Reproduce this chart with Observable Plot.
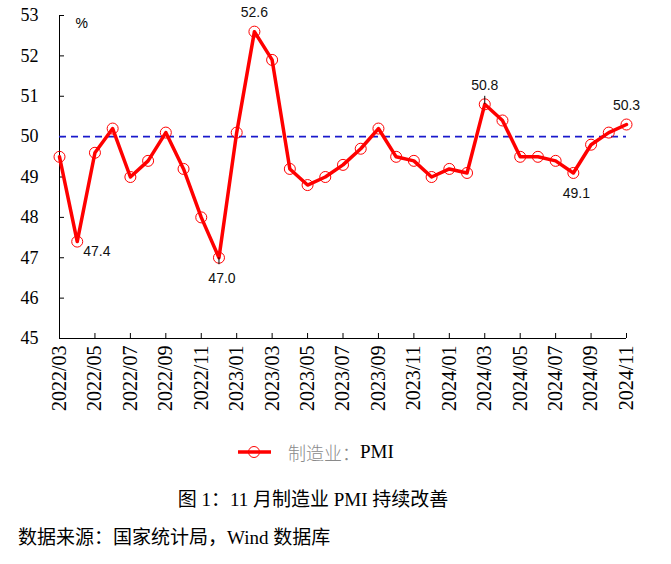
<!DOCTYPE html>
<html>
<head>
<meta charset="utf-8">
<script src="https://cdn.jsdelivr.net/npm/d3@7"></script>
<script src="https://cdn.jsdelivr.net/npm/@observablehq/plot@0.6"></script>
<style>
  html, body { margin: 0; padding: 0; background: #fff; }
  #wrap { position: relative; width: 671px; height: 564px; background: #fff; overflow: hidden; }
  #chart { position: absolute; left: 0; top: 0; }
  .legend { position: absolute; left: 236px; top: 440px; height: 24px; display: flex; align-items: center; font-size: 18px; }
  .legend .cn { color: #8a8a8a; font-family: "Noto Sans CJK SC", sans-serif; font-weight: 300; margin-left: 16px; }
  .legend .en { color: #000; font-family: "Liberation Serif", serif; font-size: 19px; }
  .title { position: absolute; left: 0; width: 626px; top: 484px; text-align: center; font-family: "Liberation Serif", "Noto Sans CJK SC", serif; font-size: 19px; color: #000; }
  .source { position: absolute; left: 18px; top: 522px; font-family: "Liberation Serif", "Noto Sans CJK SC", serif; font-size: 19px; color: #000; }
</style>
</head>
<body>
<div id="wrap">
  <div id="chart"></div>
  <div class="legend">
    <svg width="36" height="14"><line x1="2" y1="7" x2="35" y2="7" stroke="#ff0000" stroke-width="3.5"/><circle cx="18" cy="7" r="5.5" fill="none" stroke="#ff0000" stroke-width="1"/></svg>
    <span class="cn">制造业：</span><span class="en">PMI</span>
  </div>
  <div class="title">图 1：11 月制造业 PMI 持续改善</div>
  <div class="source">数据来源：国家统计局，Wind 数据库</div>
</div>
<script>
const months = [
  "2022/03","2022/04","2022/05","2022/06","2022/07","2022/08","2022/09","2022/10","2022/11","2022/12",
  "2023/01","2023/02","2023/03","2023/04","2023/05","2023/06","2023/07","2023/08","2023/09","2023/10","2023/11","2023/12",
  "2024/01","2024/02","2024/03","2024/04","2024/05","2024/06","2024/07","2024/08","2024/09","2024/10","2024/11"
];
const pmi = [
  49.5, 47.4, 49.6, 50.2, 49.0, 49.4, 50.1, 49.2, 48.0, 47.0,
  50.1, 52.6, 51.9, 49.2, 48.8, 49.0, 49.3, 49.7, 50.2, 49.5, 49.4, 49.0,
  49.2, 49.1, 50.8, 50.4, 49.5, 49.5, 49.4, 49.1, 49.8, 50.1, 50.3
];
const xTickLabels = [
  "2022/03","2022/05","2022/07","2022/09","2022/11","2023/01","2023/03","2023/05","2023/07",
  "2023/09","2023/11","2024/01","2024/03","2024/05","2024/07","2024/09","2024/11"
];
const yTicks = [45, 46, 47, 48, 49, 50, 51, 52, 53];
const threshold = 50;
const annAbove = ["2023/02", "2024/03", "2024/11"];
const annBelowRight = ["2022/04"];
const annBelow = ["2022/12", "2024/08"];
const leaderAbove = ["2024/03"];
const leaderBelow = ["2022/12"];

const data = months.map((m, i) => ({month: m, value: pmi[i]}));
const pick = (list) => data.filter(d => list.includes(d.month));
const serif = '"Liberation Serif", "Times New Roman", serif';
const sans = '"Liberation Sans", Arial, sans-serif';

const chart = Plot.plot({
  width: 671,
  height: 430,
  marginLeft: 59,
  marginRight: 45,
  marginTop: 15,
  marginBottom: 92,
  style: {background: "white", color: "#000", fontFamily: serif},
  x: {type: "point", domain: months, padding: 0, round: false},
  y: {domain: [45, 53]},
  marks: [
    Plot.axisY({ticks: yTicks, tickSize: 0, tickPadding: 21, fontSize: 18, label: null}),
    Plot.axisY({ticks: yTicks, tickSize: -5, text: null, label: null}),
    Plot.axisX({ticks: xTickLabels, tickSize: -5, text: null, label: null}),
    Plot.axisX({ticks: xTickLabels, tickSize: 0, tickPadding: 7, tickRotate: -90, fontSize: 20, label: null}),
    Plot.ruleX([months[0]], {stroke: "#000"}),
    Plot.ruleY([45], {stroke: "#000"}),
    Plot.ruleY([threshold], {stroke: "#1a1acc", strokeWidth: 1.6, strokeDasharray: "7,5"}),
    Plot.line(data, {x: "month", y: "value", stroke: "#ff0000", strokeWidth: 3.5}),
    Plot.dot(data, {x: "month", y: "value", r: 5.5, stroke: "#ff0000", strokeWidth: 1, fill: "none"}),
    Plot.ruleX(pick(leaderAbove), {x: "month", y1: "value", y2: "value", insetTop: -8, stroke: "#000", strokeWidth: 1}),
    Plot.ruleX(pick(leaderBelow), {x: "month", y1: "value", y2: "value", insetBottom: -7, stroke: "#000", strokeWidth: 1}),
    Plot.text(["%"], {frameAnchor: "top-left", dx: 16, dy: 3, fontSize: 14, fill: "#000", fontFamily: sans}),
    Plot.text(pick(annAbove), {x: "month", y: "value", text: d => d.value.toFixed(1), dy: -19, fontSize: 14, fill: "#111", fontFamily: sans}),
    Plot.text(pick(annBelowRight), {x: "month", y: "value", text: d => d.value.toFixed(1), dx: 6, dy: 10, textAnchor: "start", fontSize: 14, fill: "#111", fontFamily: sans}),
    Plot.text(pick(annBelow), {x: "month", y: "value", text: d => d.value.toFixed(1), dx: 3, dy: 21, fontSize: 14, fill: "#111", fontFamily: sans})
  ]
});
document.getElementById("chart").appendChild(chart);
</script>
</body>
</html>
